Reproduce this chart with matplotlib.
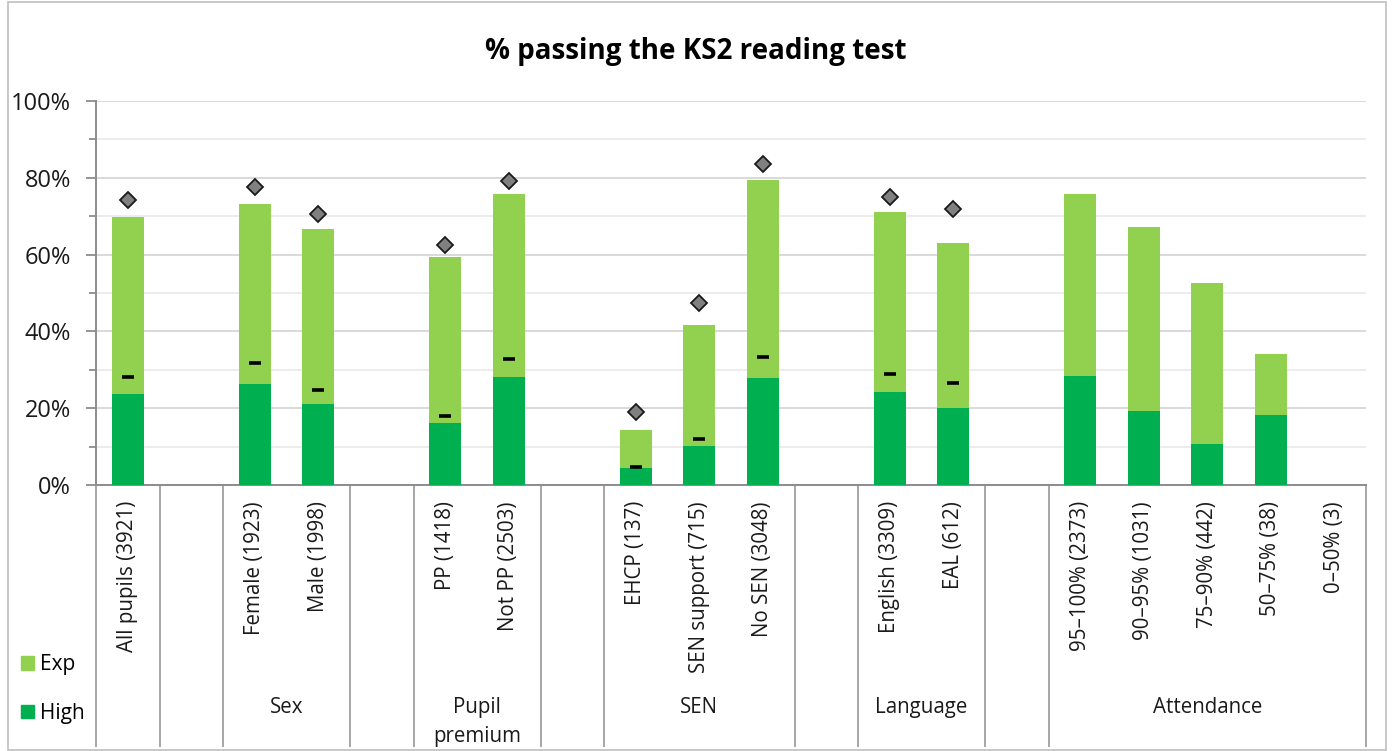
import numpy as np
import matplotlib.pyplot as plt
from matplotlib.patches import Patch, Rectangle

# categorias agrupadas (cada grupo seguido de um espaço vazio)
group_names = ["", "Sex", "Pupil\npremium", "SEN", "Language", "Attendance"]
group_sizes = [1, 2, 2, 3, 2, 5]
labels = ["All pupils (3921)",
          "Female (1923)", "Male (1998)",
          "PP (1418)", "Not PP (2503)",
          "EHCP (137)", "SEN support (715)", "No SEN (3048)",
          "English (3309)", "EAL (612)",
          "95\u2013100% (2373)", "90\u201395% (1031)", "75\u201390% (442)",
          "50\u201375% (38)", "0\u201350% (3)"]

# % atingindo o esperado (total) e % nível alto
exp_pct = [69.9, 73.3, 66.6, 59.3, 75.9, 14.4, 41.7, 79.3, 71.2, 62.9,
           75.9, 67.1, 52.6, 34.0, np.nan]
high_pct = [23.8, 26.4, 21.2, 16.1, 28.1, 4.3, 10.2, 27.8, 24.3, 20.0,
            28.3, 19.4, 10.6, 18.3, np.nan]
# referências nacionais (losango = esperado, traço = alto)
nat_exp = [74.1, 77.6, 70.6, 62.6, 79.2, 19.1, 47.5, 83.6, 75.1, 71.8,
           np.nan, np.nan, np.nan, np.nan, np.nan]
nat_high = [28.1, 31.8, 24.8, 18.0, 32.8, 4.7, 12.0, 33.4, 28.9, 26.6,
            np.nan, np.nan, np.nan, np.nan, np.nan]

FONT = ["Open Sans", "DejaVu Sans"]
plt.rcParams["font.family"] = FONT

# posições: um slot por barra + um slot vazio depois de cada grupo
pos, bounds, centers = [], [0], []
slot = 0
for k, n in enumerate(group_sizes):
    start = slot
    pos.extend(range(slot, slot + n))
    slot += n
    bounds.append(slot)
    centers.append((start + slot) / 2)
    if k < len(group_sizes) - 1:
        slot += 1
        bounds.append(slot)
x = np.array(pos) + 0.5
n_slots = slot

exp_v = np.array(exp_pct) / 100
high_v = np.array(high_pct) / 100

fig = plt.figure(figsize=(13.92, 7.51), dpi=100)
ax = fig.add_axes([96 / 1392, 1 - 485 / 751, (1366 - 96) / 1392, 384 / 751])

ax.bar(x, high_v, width=0.5, color="#00B050", zorder=3)
ax.bar(x, exp_v - high_v, bottom=high_v, width=0.5, color="#92D050", zorder=3)
ax.plot(x, np.array(nat_exp) / 100, "D", ms=8.5, color="#808080",
        mec="#1a1a1a", mew=1.3, zorder=4, linestyle="none")
ax.plot(x, np.array(nat_high) / 100, "_", ms=8, mew=2.6, color="black",
        zorder=4, linestyle="none")

ax.set_xlim(0, n_slots)
ax.set_ylim(0, 1)
ax.set_yticks(np.arange(0, 1.01, 0.2))
ax.set_yticks(np.arange(0, 1.01, 0.1), minor=True)
ax.set_yticklabels([f"{int(round(v * 100))}%" for v in np.arange(0, 1.01, 0.2)],
                   fontsize=17, color="#1a1a1a")
ax.grid(axis="y", which="major", color="#d9d9d9", linewidth=1.4, zorder=0)
ax.grid(axis="y", which="minor", color="#ececec", linewidth=1.4, zorder=0)
ax.tick_params(axis="y", which="major", length=7, width=1.3, color="#8c8c8c", pad=11)
ax.tick_params(axis="y", which="minor", length=5, width=1.3, color="#8c8c8c")
ax.set_xticks([])
for s in ["top", "right"]:
    ax.spines[s].set_visible(False)
for s in ["left", "bottom"]:
    ax.spines[s].set_color("#8c8c8c")
    ax.spines[s].set_linewidth(1.4)

# eixo de categorias em dois níveis
tr = ax.get_xaxis_transform()
for b in bounds:
    ax.plot([b, b], [0, -0.68], transform=tr, color="#a6a6a6", lw=1.4,
            clip_on=False, zorder=2)
for xi, lab in zip(x, labels):
    ax.text(xi, -0.042, lab, transform=tr, rotation=90, ha="center", va="top",
            fontsize=14.8, color="#1a1a1a")
for c, g in zip(centers, group_names):
    if g:
        ax.text(c, -0.553, g, transform=tr, ha="center", va="top",
                fontsize=14.8, color="#1a1a1a", linespacing=1.5)

fig.text(0.5, 1 - 51 / 751, "% passing the KS2 reading test", fontsize=20,
         fontweight="bold", ha="center", va="center", color="black")

handles = [Patch(color="#92D050", label="Exp"), Patch(color="#00B050", label="High")]
fig.legend(handles=handles, loc="upper left", bbox_to_anchor=(21 / 1392, 0.129),
           frameon=False, fontsize=15, handlelength=0.62, handleheight=0.62,
           handletextpad=0.3, labelspacing=1.34, borderpad=0, borderaxespad=0)

# moldura do gráfico
fig.add_artist(Rectangle((8 / 1392, 1 / 751), 1378 / 1392, 748 / 751,
                         transform=fig.transFigure, fill=False,
                         edgecolor="#bfbfbf", lw=1.2))

fig.savefig("out.png", dpi=100)
